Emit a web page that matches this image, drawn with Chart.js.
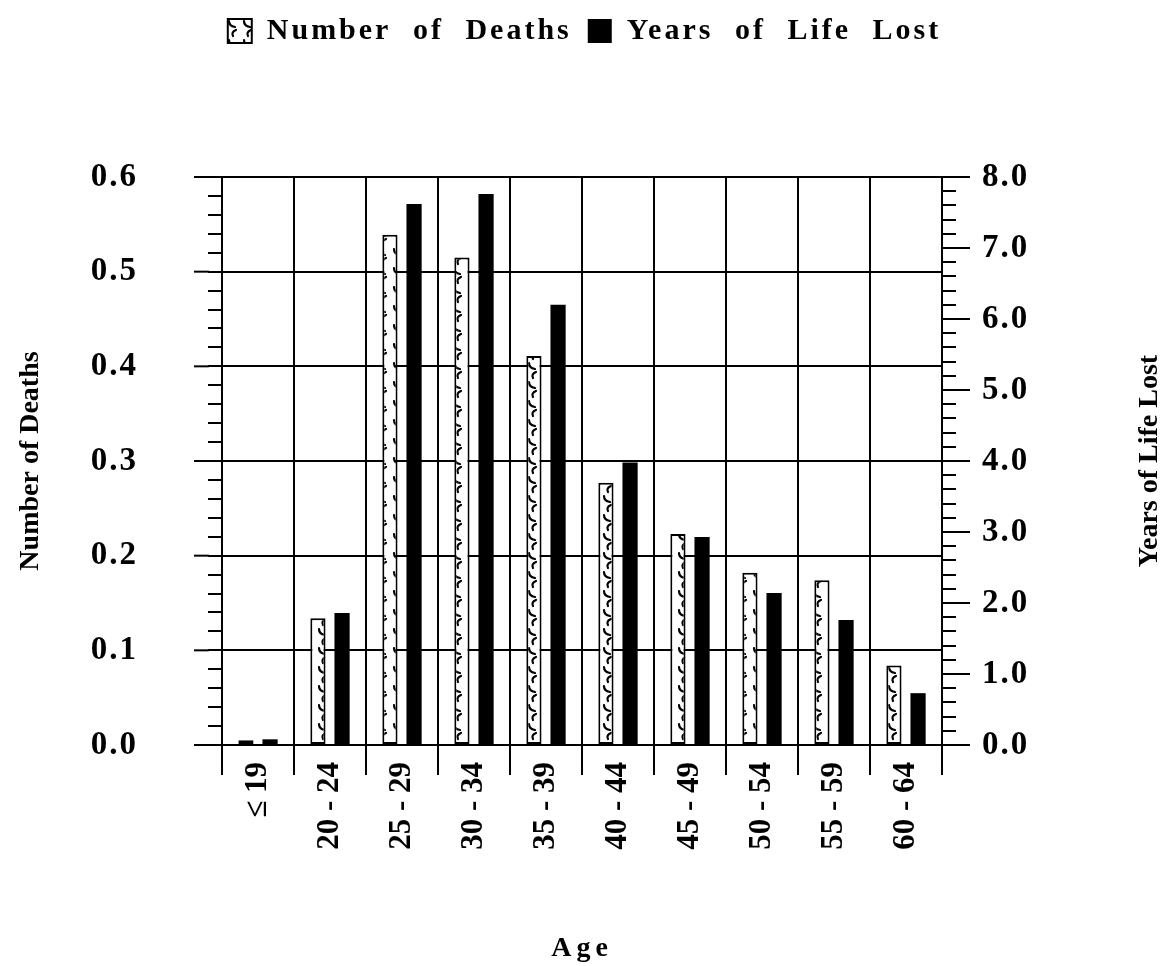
<!DOCTYPE html>
<html>
<head>
<meta charset="utf-8">
<script src="https://cdn.jsdelivr.net/npm/chart.js@4.4.1/dist/chart.umd.min.js"></script>
<style>
  html, body { margin: 0; padding: 0; background: #fff; }
</style>
</head>
<body>
<canvas id="myChart" width="1169" height="966"></canvas>
<script>
var ages = ['\u2264 19', '20 - 24', '25 - 29', '30 - 34', '35 - 39', '40 - 44', '45 - 49', '50 - 54', '55 - 59', '60 - 64'];
var deaths = [0.005, 0.134, 0.539, 0.515, 0.411, 0.277, 0.223, 0.182, 0.174, 0.084];
var yearsLost = [0.08, 1.86, 7.62, 7.76, 6.2, 3.98, 2.93, 2.14, 1.76, 0.73];
var deathTicks = [0, 0.1, 0.2, 0.3, 0.4, 0.5, 0.6];
var yearTicks = [0, 1, 2, 3, 4, 5, 6, 7, 8];

var serif = "'Liberation Serif', 'Times New Roman', serif";
var ctx = document.getElementById('myChart').getContext('2d');

// little hooked strokes used as fill for the deaths bars
var tile = document.createElement('canvas');
tile.width = 15; tile.height = 19;
var t = tile.getContext('2d');
t.fillStyle = '#fff';
t.fillRect(0, 0, 15, 19);
t.strokeStyle = '#000';
t.lineWidth = 2.2;
t.lineCap = 'round';
t.beginPath(); t.moveTo(4, 2); t.quadraticCurveTo(4, 7, 10, 8); t.stroke();
t.beginPath(); t.moveTo(11, 11); t.quadraticCurveTo(6, 13, 8, 17); t.stroke();
var hatch = ctx.createPattern(tile, 'repeat');

function isMajor(v, step) {
  var r = v / step;
  return Math.abs(r - Math.round(r)) < 1e-6;
}

// run a draw/fit method with extra letter spacing
function spaced(obj, fn, ls, ws) {
  if (obj['_sp_' + fn]) return;
  var orig = obj[fn];
  obj[fn] = function () {
    var c = this.ctx;
    c.save();
    c.letterSpacing = ls;
    c.wordSpacing = ws || '0px';
    var r = orig.apply(this, arguments);
    c.restore();
    return r;
  };
  obj['_sp_' + fn] = true;
}

var extras = {
  id: 'extras',
  beforeInit: function (chart) {
    var lg = chart.legend;
    spaced(lg, 'fit', '3px', '11px');
    spaced(lg, 'draw', '3px', '11px');
    // legend block takes all the room above the plot
    var fit = lg.fit;
    lg.fit = function () {
      fit.apply(this, arguments);
      this.height = 177;
      this.bottom = this.top + 177;
    };
  },
  beforeDraw: function (chart) {
    spaced(chart.scales.y, 'drawLabels', '2px');
    spaced(chart.scales.y1, 'drawLabels', '2px');
    spaced(chart.scales.x, 'drawTitle', '5px');
  },
  afterDraw: function (chart) {
    var c = chart.ctx, y = chart.scales.y, y1 = chart.scales.y1, a = chart.chartArea;
    c.save();
    c.strokeStyle = '#000';
    c.lineWidth = 2;
    // longer major ticks on both value axes
    deathTicks.forEach(function (v) {
      var p = y.getPixelForValue(v);
      c.beginPath(); c.moveTo(a.left - 28, p); c.lineTo(a.left - 13, p); c.stroke();
    });
    yearTicks.forEach(function (v) {
      var p = y1.getPixelForValue(v);
      c.beginPath(); c.moveTo(a.right + 13, p); c.lineTo(a.right + 28, p); c.stroke();
    });
    // right axis title reads bottom to top like the left one
    c.translate(1150, (a.top + a.bottom) / 2);
    c.rotate(-Math.PI / 2);
    c.fillStyle = '#000';
    c.font = 'bold 28px ' + serif;
    c.textAlign = 'center';
    c.textBaseline = 'middle';
    c.fillText('Years of Life Lost', 0, 0);
    c.restore();
  }
};

var chart = new Chart(ctx, {
  type: 'bar',
  data: {
    labels: ages,
    datasets: [{
      label: 'Number of Deaths',
      data: deaths,
      yAxisID: 'y',
      backgroundColor: hatch,
      borderColor: '#000',
      borderWidth: 2,
      borderSkipped: false
    }, {
      label: 'Years of Life Lost',
      data: yearsLost,
      yAxisID: 'y1',
      backgroundColor: '#000',
      borderColor: '#000',
      borderWidth: 0
    }]
  },
  options: {
    responsive: false,
    animation: false,
    categoryPercentage: 0.67,
    barPercentage: 0.63,
    layout: { padding: 0 },
    plugins: {
      tooltip: { enabled: false },
      legend: {
        position: 'top',
        labels: {
          color: '#000',
          font: { family: serif, size: 30, weight: 'bold' },
          boxWidth: 24,
          boxHeight: 24,
          padding: 16
        }
      }
    },
    scales: {
      x: {
        grid: { offset: true, color: '#000', lineWidth: 2, tickLength: 30, drawOnChartArea: true },
        border: { color: '#000', width: 2 },
        ticks: {
          color: '#000',
          font: { family: serif, size: 31, weight: 'bold' },
          minRotation: 90,
          maxRotation: 90,
          padding: -13,
          autoSkip: false
        },
        title: {
          display: true,
          text: 'Age',
          color: '#000',
          font: { family: serif, size: 28, weight: 'bold' },
          padding: 0
        },
        afterFit: function (s) { s.height = 221; }
      },
      y: {
        position: 'left',
        min: 0,
        max: 0.6,
        grid: {
          color: function (c) { return isMajor(c.tick.value, 0.1) ? '#000' : 'rgba(0,0,0,0)'; },
          tickColor: '#000',
          lineWidth: 2,
          tickLength: 14
        },
        border: { color: '#000', width: 2 },
        ticks: {
          stepSize: 0.02,
          autoSkip: false,
          color: '#000',
          padding: 70,
          font: { family: serif, size: 33, weight: 'bold' },
          callback: function (v) { return isMajor(v, 0.1) ? v.toFixed(1) : ''; }
        },
        title: {
          display: true,
          text: 'Number of Deaths',
          color: '#000',
          font: { family: serif, size: 28, weight: 'bold' },
          padding: { top: 14, bottom: 0 }
        },
        afterFit: function (s) { s.width = 222; }
      },
      y1: {
        position: 'right',
        min: 0,
        max: 8,
        grid: {
          drawOnChartArea: false,
          tickColor: '#000',
          lineWidth: 2,
          tickLength: 14
        },
        border: { color: '#000', width: 2 },
        ticks: {
          stepSize: 0.2,
          autoSkip: false,
          color: '#000',
          padding: 26,
          font: { family: serif, size: 33, weight: 'bold' },
          callback: function (v) { return isMajor(v, 1) ? v.toFixed(1) : ''; }
        },
        afterFit: function (s) { s.width = 227; }
      }
    }
  },
  plugins: [extras]
});
</script>
</body>
</html>
